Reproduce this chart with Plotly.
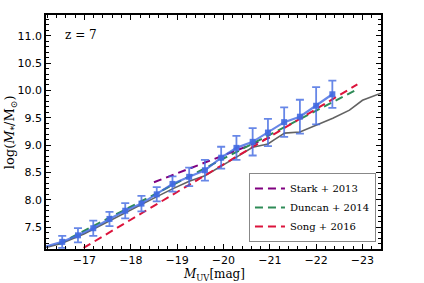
import plotly.graph_objects as go

# Data points (model medians with error bars)
muv = [-16.52, -16.86, -17.19, -17.54, -17.88, -18.23, -18.56, -18.90, -19.26,
       -19.60, -19.95, -20.28, -20.63, -20.96, -21.31, -21.65, -22.00, -22.35]
logm = [7.23, 7.35, 7.48, 7.65, 7.80, 7.93, 8.10, 8.29, 8.42,
        8.54, 8.77, 8.95, 9.06, 9.23, 9.42, 9.52, 9.72, 9.93]
err = [0.11, 0.13, 0.14, 0.13, 0.14, 0.14, 0.13, 0.14, 0.17,
       0.19, 0.20, 0.22, 0.25, 0.25, 0.27, 0.31, 0.34, 0.25]

# Blue line extends to the left edge
line_x = [-16.17] + muv
line_y = [7.15] + logm

# Gray curve
gray_x = [-16.17, -16.5, -17.0, -17.5, -18.0, -18.5, -18.9, -19.26, -19.6, -19.95,
          -20.28, -20.63, -20.96, -21.1, -21.32, -21.65, -22.0, -22.36, -22.72, -23.0, -23.4]
gray_y = [7.13, 7.20, 7.38, 7.60, 7.81, 8.03, 8.20, 8.34, 8.44, 8.61,
          8.78, 8.96, 9.02, 9.10, 9.22, 9.24, 9.37, 9.49, 9.64, 9.82, 9.95]

# Literature relations
stark_x = [-18.5, -21.0]
stark_y = [8.32, 9.14]
duncan_x = [-16.44, -22.89]
duncan_y = [7.19, 10.02]
song_x = [-16.98, -22.89]
song_y = [7.12, 10.11]

fig = go.Figure()

fig.add_trace(go.Scatter(x=gray_x, y=gray_y, mode="lines",
                         line=dict(color="rgba(70,70,70,0.85)", width=1.6),
                         showlegend=False, hoverinfo="skip"))
fig.add_trace(go.Scatter(x=stark_x, y=stark_y, mode="lines", name="Stark + 2013",
                         line=dict(color="#800080", width=2, dash="8px,5px")))
fig.add_trace(go.Scatter(x=duncan_x, y=duncan_y, mode="lines", name="Duncan + 2014",
                         line=dict(color="#2e8b57", width=2, dash="8px,5px")))
fig.add_trace(go.Scatter(x=song_x, y=song_y, mode="lines", name="Song + 2016",
                         line=dict(color="#dc143c", width=2, dash="8px,5px")))
fig.add_trace(go.Scatter(x=line_x, y=line_y, mode="lines",
                         line=dict(color="rgba(65,105,225,0.8)", width=2.2),
                         showlegend=False, hoverinfo="skip"))
fig.add_trace(go.Scatter(x=muv, y=logm, mode="markers",
                         marker=dict(symbol="square", size=6, color="rgba(65,105,225,0.9)"),
                         error_y=dict(type="data", array=err, color="rgba(65,105,225,0.8)",
                                      thickness=1.8, width=4),
                         showlegend=False))

fig.add_annotation(x=0.05, y=0.915, xref="paper", yref="paper", text="z = 7",
                   showarrow=False, xanchor="left", yanchor="middle",
                   font=dict(family="DejaVu Serif", size=12, color="black"))
fig.add_annotation(x=0.5, y=-0.067, xref="paper", yref="paper",
                   text="<i>M</i><sub>UV</sub>[mag]", showarrow=False,
                   xanchor="center", yanchor="top",
                   font=dict(family="DejaVu Serif", size=12, color="black"))
fig.add_annotation(x=-0.107, y=0.5, xref="paper", yref="paper",
                   text="log(<i>M</i><sub>*</sub>/M<sub>⊙</sub>)", showarrow=False,
                   xanchor="center", yanchor="middle", textangle=-90,
                   font=dict(family="DejaVu Serif", size=13, color="black"))

axis_common = dict(showline=True, linecolor="black", linewidth=1.8, mirror="allticks",
                   ticks="inside", ticklen=5, tickwidth=1, tickcolor="black",
                   showgrid=False, zeroline=False, automargin=False,
                   tickfont=dict(family="DejaVu Sans", size=11, color="black"))

fig.update_xaxes(range=[-16.17, -23.4], dtick=1, tick0=-17,
                 minor=dict(dtick=0.2, ticks="inside", ticklen=3, tickcolor="black", showgrid=False),
                 **axis_common)
fig.update_yaxes(range=[7.1, 11.38], dtick=0.5, tick0=7.5,
                 minor=dict(dtick=0.1, ticks="inside", ticklen=3, tickcolor="black", showgrid=False),
                 tickformat=".1f",
                 **axis_common)

fig.update_layout(width=424, height=283, margin=dict(l=46, r=43, t=15, b=34, autoexpand=False),
                  paper_bgcolor="white", plot_bgcolor="white",
                  legend=dict(x=0.985, y=0.03, xanchor="right", yanchor="bottom",
                              bgcolor="white", bordercolor="#888", borderwidth=1,
                              font=dict(family="DejaVu Serif", size=10, color="black"),
                              tracegroupgap=0, itemwidth=30))

fig.write_html("out.html", config={"displayModeBar": False},
               post_script="document.body.style.margin='0';")
